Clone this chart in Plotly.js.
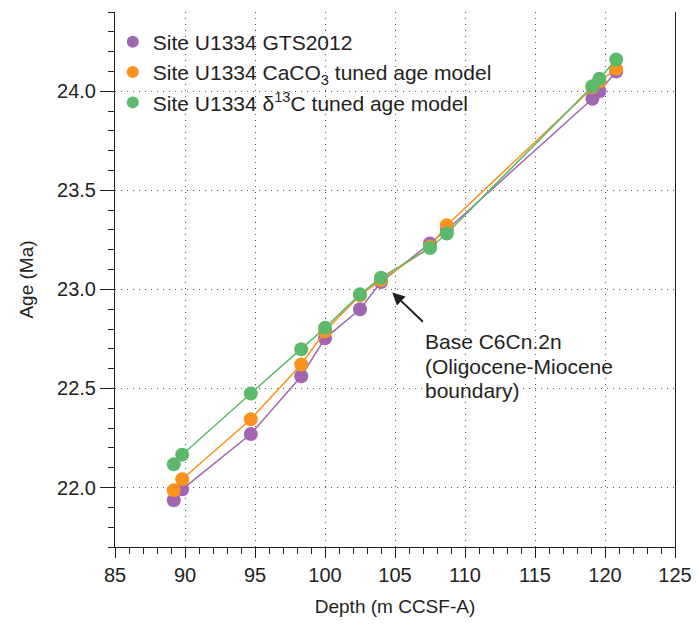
<!DOCTYPE html>
<html>
<head>
<meta charset="utf-8">
<script src="https://cdn.plot.ly/plotly-3.0.1.min.js"></script>
<style>html,body{margin:0;padding:0;background:#fff;}#chart{width:699px;height:629px;}</style>
</head>
<body>
<div id="chart"></div>
<script>
// Depth (m CCSF-A) of the tie points
const depthGTS = [89.2, 89.8, 94.7, 98.3, 100.0, 102.5, 104.0, 107.5, 108.7, 119.1, 119.6, 120.8];
const depthCaCO3 = [89.2, 89.8, 94.7, 98.3, 100.0, 102.5, 104.0, 107.5, 108.7, 119.1, 119.6, 120.8];
const depthD13C = [89.2, 89.8, 94.7, 98.3, 100.0, 102.5, 104.0, 107.5, 108.7, 119.1, 119.6, 120.8];
// Age (Ma)
const ageGTS = [21.936, 21.991, 22.27, 22.562, 22.753, 22.90, 23.037, 23.232, 23.30, 23.962, 24.0, 24.10];
const ageCaCO3 = [21.986, 22.042, 22.345, 22.621, 22.789, 22.97, 23.047, 23.215, 23.324, 24.02, 24.05, 24.113];
const ageD13C = [22.117, 22.166, 22.475, 22.698, 22.806, 22.975, 23.059, 23.209, 23.282, 24.025, 24.063, 24.16];

const seriesNames = ["Site U1334 GTS2012", "Site U1334 CaCO<sub>3</sub> tuned age model", "Site U1334 δ<sup>13</sup>C tuned age model"];
const colors = ["#a067b0", "#f7931e", "#5cb96b"];

const xTicks = [85, 90, 95, 100, 105, 110, 115, 120, 125];
const yTicks = [22.0, 22.5, 23.0, 23.5, 24.0];
const yTickText = ["22.0", "22.5", "23.0", "23.5", "24.0"];

const annoLines = ["Base C6Cn.2n", "(Oligocene-Miocene", "boundary)"];

const FONT = "Liberation Sans, Arial, sans-serif";
const TXT = "#231f20";

const xs = [depthGTS, depthCaCO3, depthD13C];
const ys = [ageGTS, ageCaCO3, ageD13C];

const traces = [];
for (let i = 0; i < 3; i++) {
  traces.push({
    x: xs[i], y: ys[i], type: "scatter", mode: "lines+markers",
    line: {color: colors[i], width: 1.5},
    marker: {color: colors[i], size: 14},
    showlegend: false, hoverinfo: "x+y"
  });
}
for (let i = 0; i < 3; i++) {
  traces.push({
    x: [null], y: [null], type: "scatter", mode: "markers",
    marker: {color: colors[i], size: 14},
    name: seriesNames[i], showlegend: true
  });
}

const annotations = [{
  x: 104.8, y: 22.985, xref: "x", yref: "y",
  ax: 107.1, ay: 22.83, axref: "x", ayref: "y",
  text: "", showarrow: true, arrowhead: 2, arrowsize: 1.25, arrowwidth: 2, arrowcolor: "#231f20"
}];
const annoY = [22.739, 22.613, 22.492];
for (let i = 0; i < annoLines.length; i++) {
  annotations.push({
    x: 107.0, y: annoY[i], xref: "x", yref: "y", xanchor: "left", yanchor: "middle",
    text: annoLines[i], showarrow: false, align: "left",
    font: {family: FONT, size: 21, color: TXT}
  });
}

const layout = {
  width: 699, height: 629,
  margin: {l: 115, r: 24, t: 12, b: 82},
  paper_bgcolor: "#fff", plot_bgcolor: "#fff",
  font: {family: FONT, color: TXT, size: 20},
  showlegend: true,
  legend: {x: -0.004, y: 0.982, xanchor: "left", yanchor: "top", bgcolor: "rgba(0,0,0,0)",
           font: {family: FONT, size: 21, color: TXT}, itemsizing: "constant"},
  xaxis: {
    range: [85, 125], tickvals: xTicks, ticks: "outside", ticklen: 10, tickwidth: 1, tickcolor: TXT,
    showline: true, linecolor: TXT, linewidth: 1, mirror: false, zeroline: false,
    showgrid: true, gridcolor: "#555", griddash: "1px,5px", gridwidth: 1,
    tickfont: {family: FONT, size: 20, color: TXT},
    minor: {dtick: 1, ticks: "outside", ticklen: 6, tickcolor: TXT, showgrid: false},
    title: {text: "Depth (m CCSF-A)", font: {family: FONT, size: 19, color: TXT}, standoff: 14}
  },
  yaxis: {
    range: [21.7, 24.4], tickvals: yTicks, ticktext: yTickText, ticks: "outside", ticklen: 14, tickwidth: 1, tickcolor: TXT,
    showline: true, linecolor: TXT, linewidth: 1, mirror: true, zeroline: false,
    showgrid: true, gridcolor: "#555", griddash: "1px,5px", gridwidth: 1,
    tickfont: {family: FONT, size: 20, color: TXT},
    minor: {dtick: 0.1, tick0: 22, ticks: "outside", ticklen: 6, tickcolor: TXT, showgrid: false},
    title: {text: "Age (Ma)", font: {family: FONT, size: 19, color: TXT}, standoff: 18}
  },
  annotations: annotations
};

Plotly.newPlot("chart", traces, layout, {displayModeBar: false, staticPlot: true});
</script>
</body>
</html>
